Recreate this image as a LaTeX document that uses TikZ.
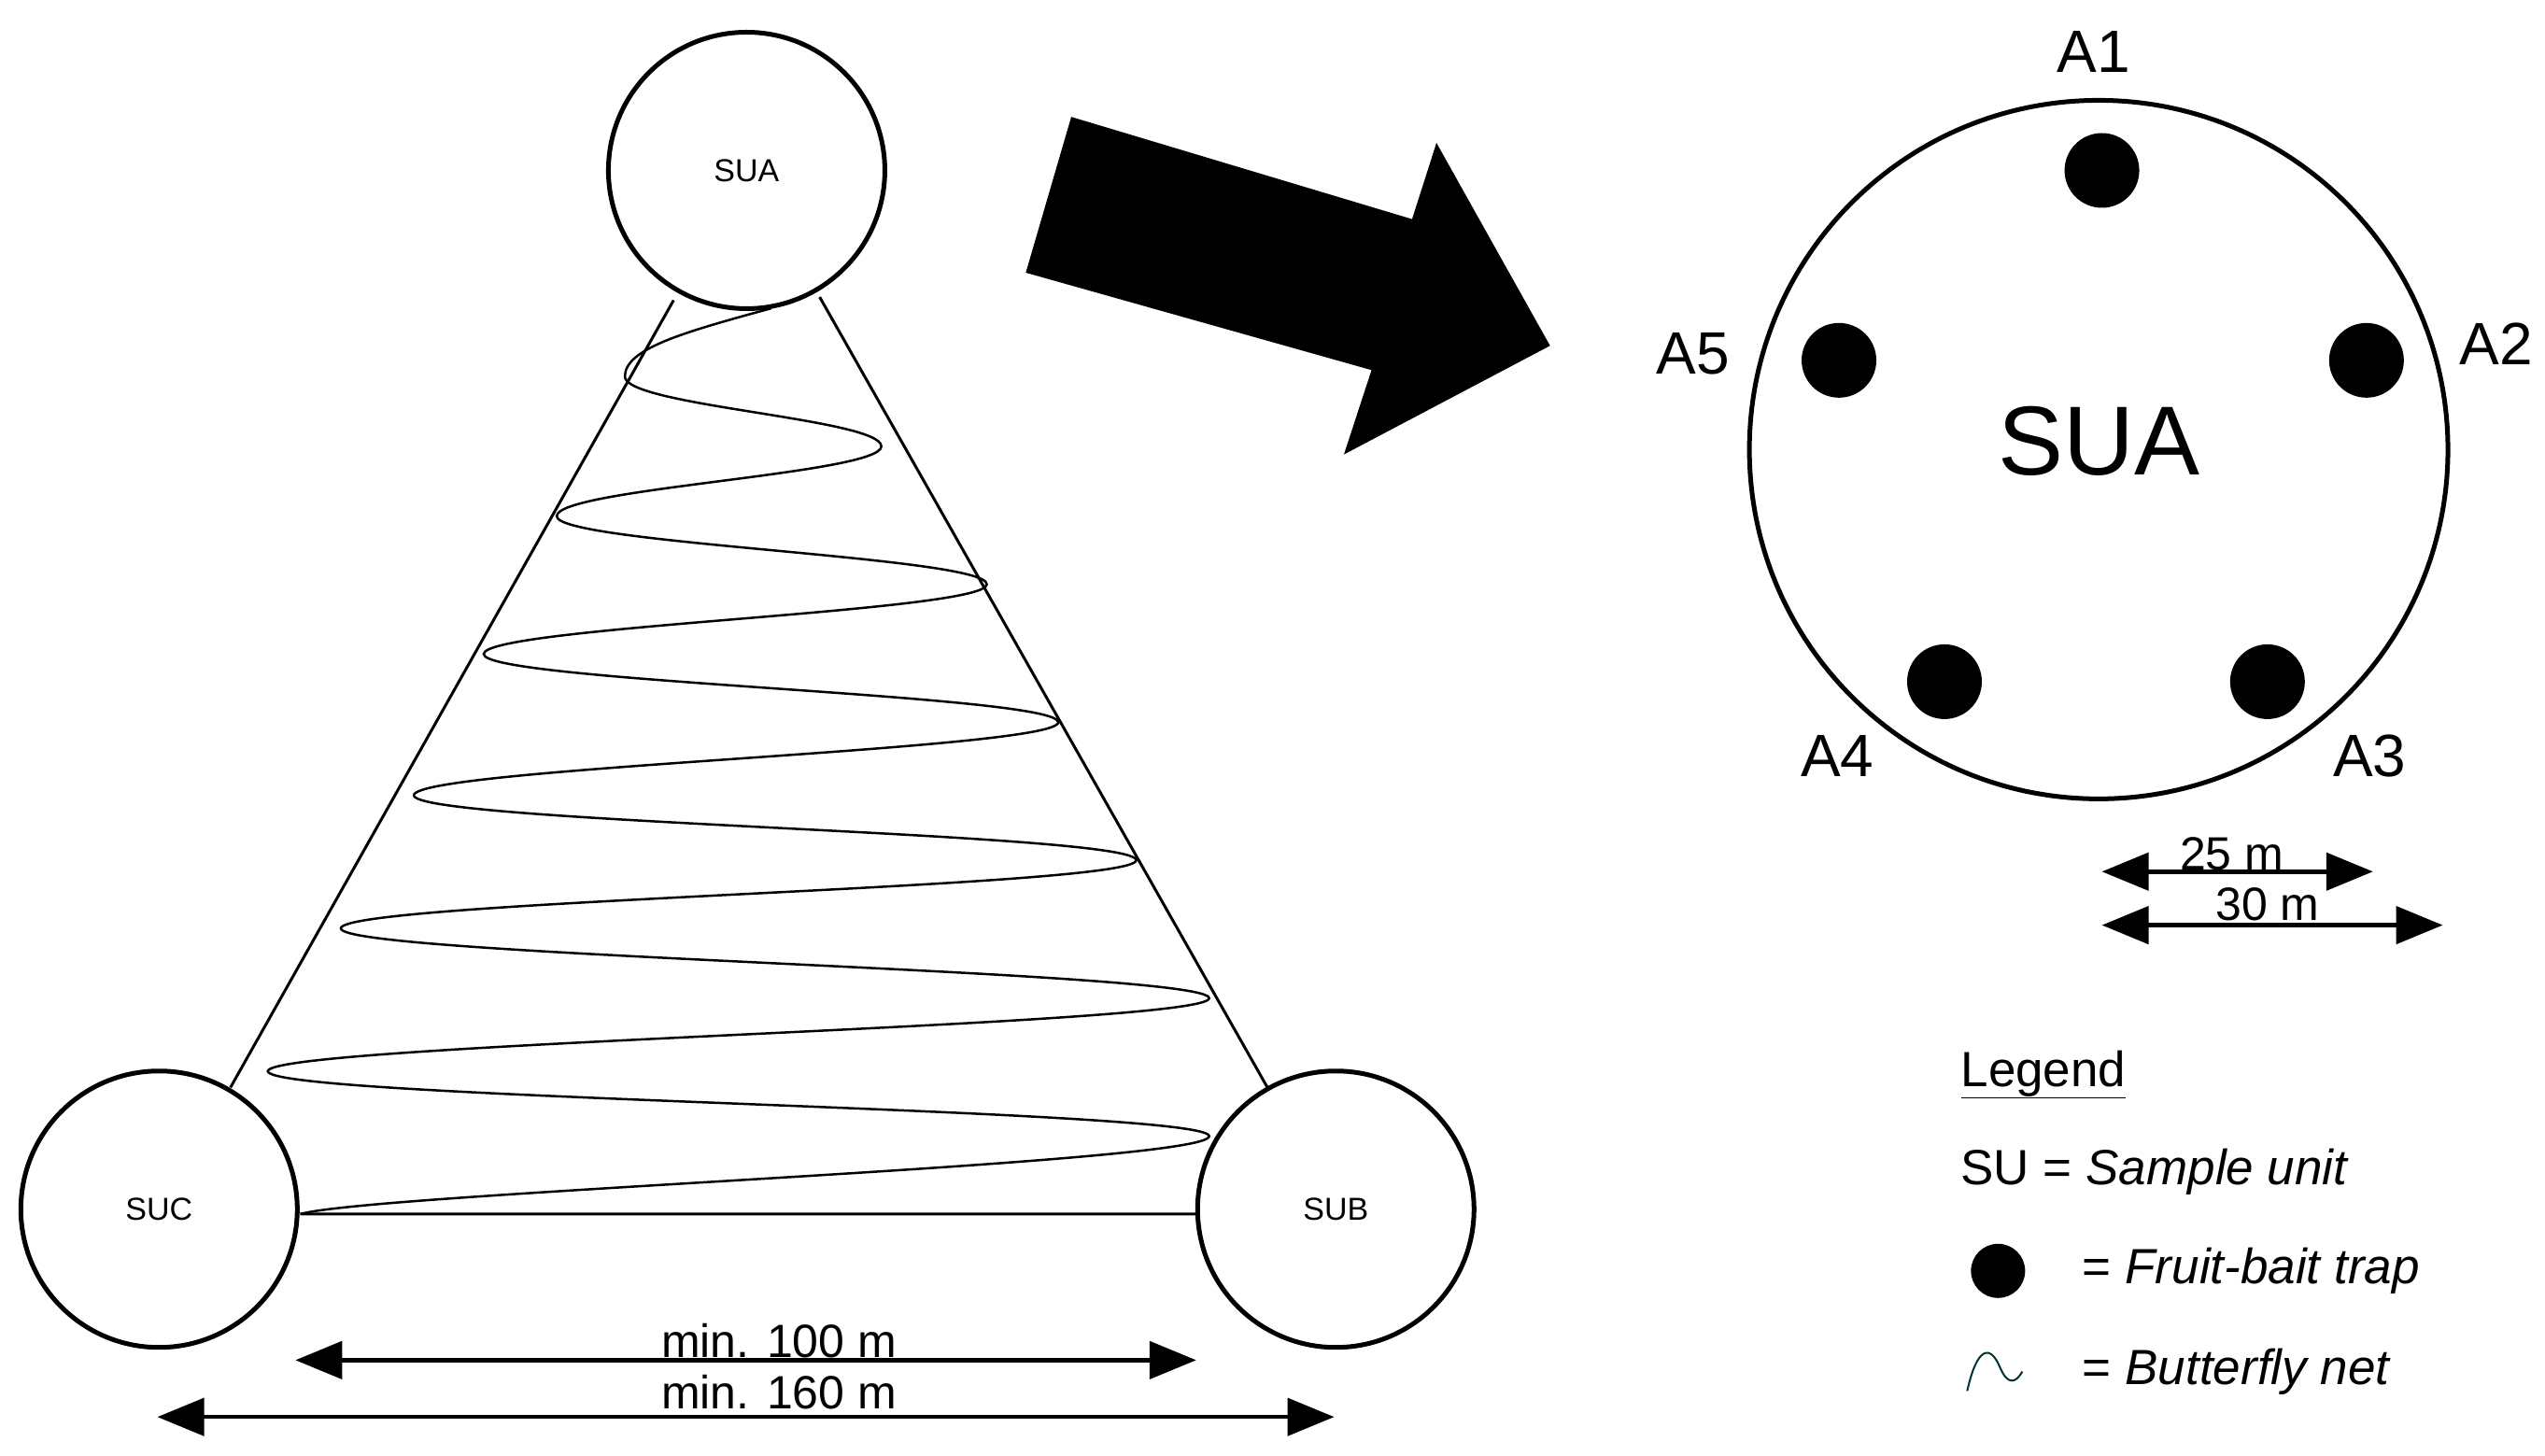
\documentclass[tikz,border=0pt]{standalone}
\usepackage{fontspec}
\setmainfont{Liberation Sans}
\usetikzlibrary{arrows.meta}
\begin{document}
\begin{tikzpicture}[x=1.738pt,y=-1.738pt,
  su/.style={circle,draw,line width=5pt,minimum size=296pt,inner sep=0pt,font=\fontsize{34}{34}\selectfont},
  trap/.style={circle,fill=black,minimum size=80pt,inner sep=0pt},
  lab/.style={font=\fontsize{64}{64}\selectfont},
  dim/.style={line width=4.5pt,{Triangle[length=50pt,width=40pt]}-{Triangle[length=50pt,width=40pt]}},
  dimtxt/.style={font=\fontsize{50}{50}\selectfont,inner sep=0pt},
  leg/.style={font=\fontsize{53}{53}\selectfont,anchor=west,inner sep=0pt}]
\useasboundingbox[fill=white] (0,0) rectangle (1568,897);
% triangle lines
\coordinate (t1) at (415,185); \coordinate (t2) at (142,670);
\coordinate (t3) at (505,183); \coordinate (t4) at (782,672);
\coordinate (t5) at (185,748); \coordinate (t6) at (738,748);
\draw[line width=3pt] (t1)--(t2) (t3)--(t4) (t5)--(t6);
% zigzag
\draw[line width=2.5pt] (475,190) .. controls (420,205) and (385,215) .. (385,232)
 .. controls (385,250) and (543,258) .. (543,275)
 .. controls (543,292) and (343,301) .. (343,318)
 .. controls (343,335) and (608,343) .. (608,360)
 .. controls (608,377) and (298,386) .. (298,403)
 .. controls (298,420) and (652,428) .. (652,445)
 .. controls (652,462) and (255,473) .. (255,490)
 .. controls (255,507) and (700,513) .. (700,530)
 .. controls (700,547) and (210,555) .. (210,572)
 .. controls (210,589) and (745,598) .. (745,615)
 .. controls (745,632) and (165,643) .. (165,660)
 .. controls (165,677) and (745,683) .. (745,700)
 .. controls (745,717) and (230,735) .. (185,748);
\node[su,fill=white] (sua) at (460,105) {SUA};
\node[su,fill=white] (suc) at (98,745) {SUC};
\node[su,fill=white] (sub) at (823,745) {SUB};
% big arrow
\fill (660,72) -- (870,135) -- (885,88) -- (955,213) -- (828,280) -- (845,228) -- (632,168) -- cycle;
% big circle
\node[circle,draw,line width=5pt,minimum size=748pt,inner sep=0pt] (big) at (1293,277) {};
\node[font=\fontsize{105}{105}\selectfont] (bigtxt) at (1293,272) {SUA};
\node[trap] (a1) at (1295,105) {};
\node[trap] (a2) at (1458,222) {};
\node[trap] (a3) at (1397,420) {};
\node[trap] (a4) at (1198,420) {};
\node[trap] (a5) at (1133,222) {};
\node[lab] (l1) at (1290,32) {A1};
\node[lab] (l2) at (1538,212) {A2};
\node[lab] (l3) at (1460,466) {A3};
\node[lab] (l4) at (1132,466) {A4};
\node[lab] (l5) at (1043,218) {A5};
% dims right
\coordinate (r1) at (1295,537); \coordinate (r2) at (1462,537);
\coordinate (r3) at (1295,570); \coordinate (r4) at (1505,570);
\draw[dim] (r1)--(r2); \draw[dim] (r3)--(r4);
\node[dimtxt] (d25) at (1375,526) {25 m};
\node[dimtxt] (d30) at (1397,557) {30 m};
% dims left
\coordinate (b1) at (182,838); \coordinate (b2) at (737,838);
\coordinate (b3) at (97,873); \coordinate (b4) at (822,873);
\draw[dim] (b1)--(b2); \draw[dim] (b3)--(b4);
\node[dimtxt] (d100) at (480,826) {min. 100 m};
\node[dimtxt] (d160) at (480,858) {min. 160 m};
% legend
\node[leg] (lg) at (1208,662) {\underline{Legend}};
\node[leg] (lsu) at (1208,722) {SU = \textit{Sample unit}};
\node[circle,fill=black,minimum size=58pt,inner sep=0pt] (ld) at (1231,783) {};
\node[leg] (lft) at (1283,783) {= \textit{Fruit-bait trap}};
\draw[line width=2pt,color=black!60!teal] (1212,857) .. controls (1218,830) and (1226,828) .. (1232,842) .. controls (1237,854) and (1242,852) .. (1246,845);
\node[leg] (lbn) at (1283,845) {= \textit{Butterfly net}};
\end{tikzpicture}
\end{document}
